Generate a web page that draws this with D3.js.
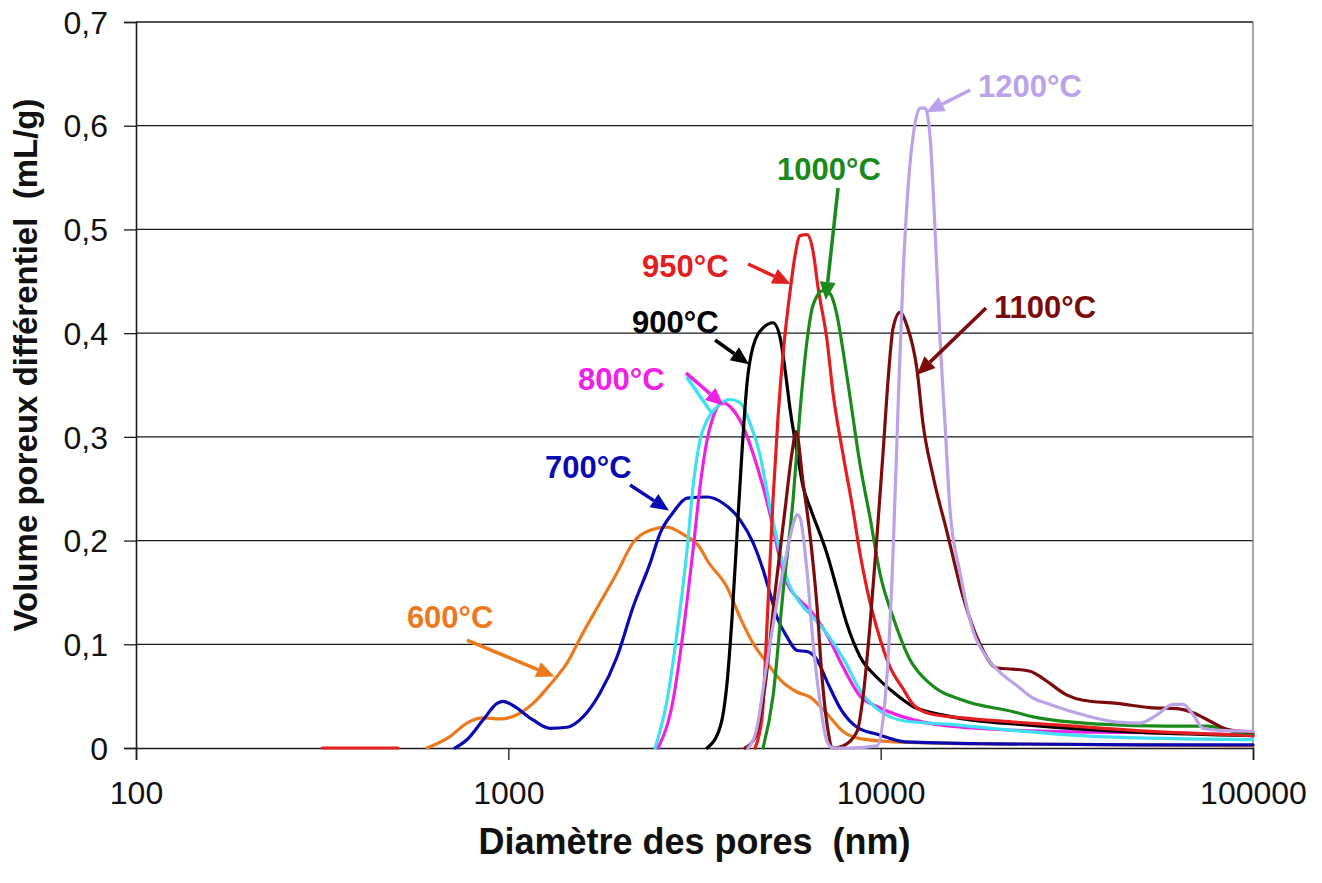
<!DOCTYPE html>
<html><head><meta charset="utf-8">
<script src="https://cdn.jsdelivr.net/npm/d3@7/dist/d3.min.js"></script>
<style>body{margin:0;background:#fff}svg{display:block}</style>
</head><body>
<svg id="chart" width="1322" height="883"></svg>
<script>
// ---------- data ----------
const xTickValues = [100, 1000, 10000, 100000];
const xTickLabels = ["100", "1000", "10000", "100000"];
const yTickValues = [0, 0.1, 0.2, 0.3, 0.4, 0.5, 0.6, 0.7];
const yTickLabels = ["0", "0,1", "0,2", "0,3", "0,4", "0,5", "0,6", "0,7"];

const seriesNames = ["600°C", "700°C", "800°C", "850°C", "900°C", "950°C", "1000°C", "1100°C", "1200°C"];

const d600 = [605, 697, 774, 855, 950, 1055, 1165, 1294, 1438, 1587, 1763, 1959, 2163, 2402, 2669, 2946, 3273, 3418, 3868, 4191, 4542, 4953, 5368, 5963, 6462, 7178, 7925, 8806, 10800, 20000, 50000, 100000];
const v600 = [0, 0.011, 0.024, 0.029, 0.028, 0.032, 0.043, 0.061, 0.082, 0.111, 0.14, 0.169, 0.198, 0.21, 0.213, 0.206, 0.193, 0.181, 0.155, 0.126, 0.101, 0.082, 0.066, 0.054, 0.049, 0.033, 0.016, 0.009, 0.006, 0.004, 0.003, 0.002];

const d700 = [719, 774, 855, 933, 968, 1029, 1165, 1294, 1438, 1587, 1763, 1959, 2163, 2402, 2556, 2770, 3020, 3418, 3773, 4191, 4542, 4831, 5045, 5268, 5605, 5963, 6343, 6748, 7178, 7827, 8644, 9840, 11630, 20000, 50000, 100000];
const v700 = [0, 0.008, 0.027, 0.043, 0.045, 0.041, 0.027, 0.019, 0.020, 0.030, 0.053, 0.088, 0.136, 0.178, 0.207, 0.227, 0.241, 0.242, 0.236, 0.220, 0.198, 0.172, 0.149, 0.126, 0.107, 0.094, 0.093, 0.085, 0.064, 0.037, 0.020, 0.013, 0.006, 0.004, 0.003, 0.003];

const d800 = [2524, 2770, 2946, 3134, 3273, 3418, 3546, 3773, 4013, 4270, 4542, 4831, 5140, 5368, 5605, 5963, 6462, 7178, 7925, 8806, 9780, 11490, 15360, 28510, 72100, 100000];
const v800 = [0, 0.046, 0.111, 0.191, 0.252, 0.297, 0.319, 0.333, 0.326, 0.310, 0.284, 0.252, 0.213, 0.181, 0.159, 0.145, 0.133, 0.109, 0.078, 0.050, 0.040, 0.030, 0.021, 0.016, 0.014, 0.012];

const d850 = [2478, 2669, 2839, 3020, 3134, 3273, 3418, 3636, 3939, 4191, 4459, 4745, 5045, 5268, 5605, 6074, 6624, 7178, 7974, 8861, 9840, 11630, 15080, 22680, 38850, 100000];
const v850 = [0, 0.046, 0.111, 0.191, 0.252, 0.297, 0.316, 0.329, 0.336, 0.333, 0.313, 0.282, 0.232, 0.201, 0.163, 0.140, 0.125, 0.110, 0.085, 0.054, 0.037, 0.026, 0.023, 0.017, 0.011, 0.008];

const d900 = [3418, 3704, 3868, 3989, 4115, 4244, 4377, 4542, 4831, 5140, 5368, 5536, 5710, 5963, 6188, 6462, 7178, 7636, 8124, 8806, 9780, 10800, 12220, 15080, 25000, 100000];
const v900 = [0, 0.020, 0.063, 0.126, 0.207, 0.287, 0.352, 0.387, 0.405, 0.410, 0.396, 0.365, 0.327, 0.285, 0.252, 0.232, 0.187, 0.153, 0.119, 0.088, 0.068, 0.054, 0.040, 0.031, 0.022, 0.012];

const d950 = [316, 505, 510, 4598, 4803, 4984, 5140, 5302, 5503, 5710, 5890, 6074, 6343, 6582, 6790, 7178, 7449, 7925, 8432, 8806, 9194, 9780, 10600, 11490, 12220, 13570, 16640, 22680, 30340, 52900, 100000];
const v950 = [0, 0, null, 0, 0.03, 0.14, 0.24, 0.32, 0.39, 0.44, 0.475, 0.494, 0.495, 0.479, 0.444, 0.393, 0.342, 0.283, 0.229, 0.187, 0.153, 0.115, 0.078, 0.057, 0.042, 0.033, 0.029, 0.025, 0.022, 0.016, 0.012];

const d1000 = [4831, 5140, 5468, 5816, 6074, 6343, 6582, 7003, 7313, 7636, 7925, 8277, 8806, 9365, 9960, 10800, 11990, 13570, 16640, 22680, 25670, 38850, 58790, 75290, 88430, 100000];
const v1000 = [0, 0.05, 0.15, 0.239, 0.325, 0.393, 0.427, 0.441, 0.438, 0.417, 0.383, 0.338, 0.273, 0.222, 0.168, 0.126, 0.085, 0.062, 0.046, 0.035, 0.030, 0.023, 0.021, 0.021, 0.016, 0.014];

const d1100 = [4323, 4598, 4892, 5205, 5536, 5781, 5926, 6188, 6462, 6748, 6959, 7178, 7449, 7925, 8644, 8972, 9365, 9780, 10150, 10470, 10800, 11270, 11770, 12520, 13000, 13830, 15080, 16640, 18490, 20540, 22680, 25190, 27300, 31670, 34960, 43150, 52900, 62540, 69050, 76520, 85200, 100000];
const v1100 = [0, 0.01, 0.06, 0.15, 0.23, 0.285, 0.305, 0.256, 0.205, 0.136, 0.068, 0.023, 0, 0.002, 0.016, 0.05, 0.119, 0.205, 0.285, 0.355, 0.405, 0.420, 0.407, 0.365, 0.312, 0.262, 0.208, 0.146, 0.100, 0.077, 0.076, 0.074, 0.067, 0.051, 0.046, 0.043, 0.039, 0.038, 0.034, 0.026, 0.018, 0.015];

const d1200 = [4404, 4656, 4892, 5205, 5536, 5816, 5963, 6074, 6343, 6582, 6874, 7178, 7449, 8277, 9780, 10400, 10800, 11140, 11490, 11850, 12220, 12760, 13160, 13570, 14000, 14430, 14890, 15360, 16340, 17710, 19310, 20930, 23250, 25670, 28510, 34960, 43150, 49760, 55260, 61020, 64910, 69050, 73450, 81560, 100000];
const v1200 = [0, 0.02, 0.07, 0.13, 0.18, 0.215, 0.225, 0.222, 0.170, 0.102, 0.044, 0.006, 0, 0, 0.002, 0.07, 0.19, 0.33, 0.457, 0.541, 0.590, 0.617, 0.617, 0.590, 0.499, 0.395, 0.312, 0.229, 0.169, 0.113, 0.087, 0.073, 0.060, 0.048, 0.042, 0.032, 0.025, 0.024, 0.032, 0.042, 0.042, 0.032, 0.019, 0.017, 0.016];

// ---------- styling / layout ----------
const seriesColors = ["#ec7a1c", "#0a0ab4", "#ee22e6", "#3ee0f2", "#000000", "#e41e1e", "#1a8a1a", "#7c0c0c", "#bca2e8"];
const seriesD = [d600, d700, d800, d850, d900, d950, d1000, d1100, d1200];
const seriesV = [v600, v700, v800, v850, v900, v950, v1000, v1100, v1200];

// annotation placement (data coordinates)
const annotations = [
  {s: 0, tx: 534,   ty: 0.1157, x1: 774,   y1: 0.104, x2: 1330,  y2: 0.069},
  {s: 1, tx: 1255,  ty: 0.260,  x1: 2123,  y1: 0.2536, x2: 2700, y2: 0.229},
  {s: 2, tx: 1539,  ty: 0.345,  x1: 3001,  y1: 0.3616, x2: 3790, y2: 0.330},
  {s: 4, tx: 2149,  ty: 0.400,  x1: 3591,  y1: 0.3934, x2: 4430, y2: 0.370},
  {s: 5, tx: 2287,  ty: 0.4541, x1: 4404,  y1: 0.4667, x2: 5730, y2: 0.4475},
  {s: 6, tx: 5268,  ty: 0.5477, x1: 7684,  y1: 0.540,  x2: 7120, y2: 0.432},
  {s: 7, tx: 20160, ty: 0.4146, x1: 19190, y1: 0.4243, x2: 12520, y2: 0.3600},
  {s: 8, tx: 18260, ty: 0.6277, x1: 17390, y1: 0.6344, x2: 13250, y2: 0.6130}
];
const extraLines = [{s: 3, x1: 3010, y1: 0.358, x2: 3500, y2: 0.324}];

const svg = d3.select("#chart");
const mLeft = 136, mRight = 1253, mTop = 22, mBottom = 748;
const x = d3.scaleLog().domain([100, 100000]).range([mLeft, mRight]);
const y = d3.scaleLinear().domain([0, 0.7]).range([mBottom, mTop]);

// gridlines
svg.append("g").selectAll("line").data(yTickValues.filter(v => v > 0)).join("line")
  .attr("x1", mLeft).attr("x2", mRight)
  .attr("y1", d => y(d)).attr("y2", d => y(d))
  .attr("stroke", "#1a1a1a").attr("stroke-width", 1.3);

// right border
svg.append("line").attr("x1", mRight).attr("x2", mRight).attr("y1", mTop).attr("y2", mBottom)
  .attr("stroke", "#777").attr("stroke-width", 1.3);

// y axis
const yAxis = d3.axisLeft(y).tickValues(yTickValues).tickFormat((d, i) => yTickLabels[i]).tickSize(12).tickPadding(16);
const gy = svg.append("g").attr("transform", `translate(${mLeft},0)`).call(yAxis);
gy.select(".domain").attr("stroke", "#1a1a1a").attr("stroke-width", 1.6);
gy.selectAll(".tick line").attr("stroke", "#1a1a1a").attr("stroke-width", 1.3);
gy.selectAll("text").attr("font-family", "Liberation Sans, Arial, sans-serif").attr("font-size", 32).attr("fill", "#111").attr("dy", "0.35em");

// x axis
const xAxis = d3.axisBottom(x).tickValues(xTickValues).tickFormat((d, i) => xTickLabels[i]).tickSize(12).tickPadding(21);
const gx = svg.append("g").attr("transform", `translate(0,${mBottom})`).call(xAxis);
gx.select(".domain").attr("stroke", "#1a1a1a").attr("stroke-width", 1.6);
gx.selectAll(".tick line").attr("stroke", "#1a1a1a").attr("stroke-width", 1.3);
gx.selectAll("text").attr("font-family", "Liberation Sans, Arial, sans-serif").attr("font-size", 32).attr("fill", "#111");

// series
const line = d3.line().defined(p => p.v !== null).x(p => x(p.d)).y(p => y(p.v)).curve(d3.curveMonotoneX);
seriesNames.forEach((name, i) => {
  const pts = seriesD[i].map((d, k) => ({d: d, v: seriesV[i][k]}));
  svg.append("path").datum(pts).attr("d", line)
    .attr("fill", "none").attr("stroke", seriesColors[i]).attr("stroke-width", 3.2)
    .attr("stroke-linejoin", "round").attr("stroke-linecap", "round");
});

// annotations
function arrow(c, x1, y1, x2, y2, head) {
  const ang = Math.atan2(y2 - y1, x2 - x1);
  const L = 18, W = 8;
  const bx = x2 - L * Math.cos(ang), by = y2 - L * Math.sin(ang);
  svg.append("line").attr("x1", x1).attr("y1", y1).attr("x2", head ? bx : x2).attr("y2", head ? by : y2)
    .attr("stroke", c).attr("stroke-width", 3.5);
  if (head) {
    const px = -Math.sin(ang) * W, py = Math.cos(ang) * W;
    svg.append("path").attr("d", `M${x2},${y2}L${bx + px},${by + py}L${bx - px},${by - py}Z`).attr("fill", c);
  }
}
extraLines.forEach(a => arrow(seriesColors[a.s], x(a.x1), y(a.y1), x(a.x2), y(a.y2), false));
annotations.forEach(a => {
  const c = seriesColors[a.s];
  arrow(c, x(a.x1), y(a.y1), x(a.x2), y(a.y2), true);
  svg.append("text").attr("x", x(a.tx)).attr("y", y(a.ty)).text(seriesNames[a.s])
    .attr("font-family", "Liberation Sans, Arial, sans-serif").attr("font-weight", "bold")
    .attr("font-size", 31).attr("fill", c);
});

// axis titles
svg.append("text").attr("x", (mLeft + mRight) / 2).attr("y", 854).attr("text-anchor", "middle")
  .style("white-space", "pre")
  .attr("font-family", "Liberation Sans, Arial, sans-serif").attr("font-weight", "bold").attr("font-size", 36)
  .attr("fill", "#111").text("Diamètre des pores  (nm)");
svg.append("text").attr("transform", `translate(37,${365}) rotate(-90)`).attr("text-anchor", "middle")
  .style("white-space", "pre")
  .attr("font-family", "Liberation Sans, Arial, sans-serif").attr("font-weight", "bold").attr("font-size", 33)
  .attr("fill", "#111").text("Volume poreux différentiel  (mL/g)");
</script>
</body></html>
